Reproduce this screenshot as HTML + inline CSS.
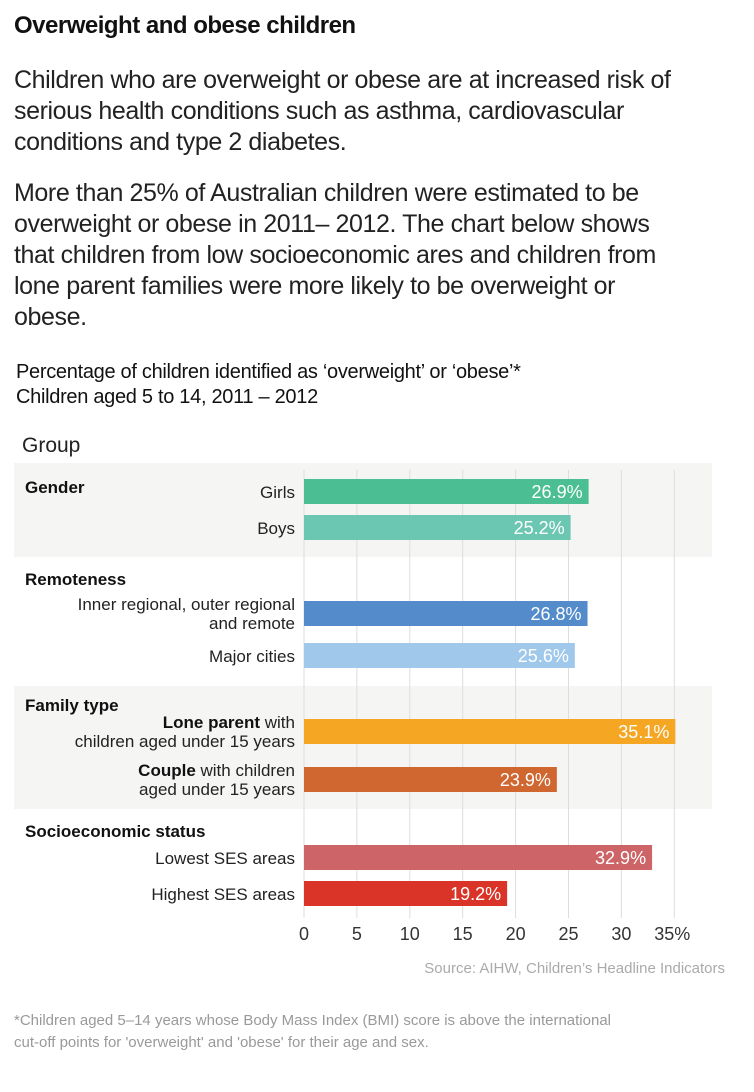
<!DOCTYPE html>
<html><head><meta charset="utf-8"><style>
body{margin:0;width:754px;height:1092px;background:#fff;font-family:"Liberation Sans",sans-serif;color:#111;position:relative;overflow:hidden}
.t{position:absolute;white-space:nowrap}
</style></head><body>
<div class="t" style="left:14px;top:12px;font-size:24px;font-weight:bold;letter-spacing:-0.5px">Overweight and obese children</div>
<div class="t" style="left:14px;top:65px;font-size:25px;line-height:31px;color:#222;letter-spacing:-0.4px">Children who are overweight or obese are at increased risk of<br>serious health conditions such as asthma, cardiovascular<br>conditions and type 2 diabetes.</div>
<div class="t" style="left:14px;top:178px;font-size:25px;line-height:31px;color:#222;letter-spacing:-0.4px">More than 25% of Australian children were estimated to be<br>overweight or obese in 2011– 2012. The chart below shows<br>that children from low socioeconomic ares and children from<br>lone parent families were more likely to be overweight or<br>obese.</div>
<div class="t" style="left:16px;top:360px;font-size:20px;line-height:25px;letter-spacing:-0.3px">Percentage of children identified as ‘overweight’ or ‘obese’*<br>Children aged 5 to 14, 2011 – 2012</div>
<svg id="c" width="754" height="1092" style="position:absolute;left:0;top:0"></svg>
<script>
const categories=["Girls","Boys","Inner regional, outer regional|and remote","Major cities","<b>Lone parent</b> with|children aged under 15 years","<b>Couple</b> with children|aged under 15 years","Lowest SES areas","Highest SES areas"];
const values=[26.9,25.2,26.8,25.6,35.1,23.9,32.9,19.2];
const colors=["#4bbf93","#6cc7b2","#548bca","#9fc8ea","#f5a623","#d06630","#cd6468","#da3428"];
const groups=["Gender","Remoteness","Family type","Socioeconomic status"];
const ticks=[0,5,10,15,20,25,30,35];
const svg=document.getElementById('c');const NS='http://www.w3.org/2000/svg';
function x(v){return 304+v*10.58;}
const barY=[479,515,601,643,719,767,845,881];
const bands=[[463,94,true],[557,129,false],[686,123,true],[809,120,false]];
const groupY=[493,585,711,837];
function mk(t,a,p){const e=document.createElementNS(NS,t);for(const k in a)e.setAttribute(k,a[k]);(p||svg).appendChild(e);return e;}
let e;
e=mk('text',{x:22,y:452,'font-size':21,fill:'#222'});e.textContent='Group';


bands.forEach((b,i)=>{if(b[2]){e=mk('rect',{x:14,y:b[0],width:698,height:b[1],fill:'#f5f5f4'});

}});
ticks.forEach(t=>{e=mk('line',{x1:x(t),x2:x(t),y1:470,y2:918,stroke:'#ddd','stroke-width':1});


e=mk('text',{x:x(t)+(t==35?-2:0),y:940,'font-size':18,fill:'#333','text-anchor':'middle'});e.textContent=t+(t==35?'%':'');

});
groups.forEach((g,i)=>{e=mk('text',{x:25,y:groupY[i],'font-size':17,'font-weight':'bold',fill:'#111'});e.textContent=g;

});
values.forEach((v,i)=>{const y=barY[i];
e=mk('rect',{x:304,y:y,width:x(v)-304,height:25,fill:colors[i]});


e=mk('text',{x:x(v)-6,y:y+19,'font-size':18,fill:'#fff','text-anchor':'end'});e.textContent=v.toFixed(1)+'%';


const lines=categories[i].split('|');
lines.forEach((l,j)=>{const ty=lines.length==1?y+19:y+9+(j*19);
e=mk('text',{x:295,y:ty,'font-size':17,fill:'#222','text-anchor':'end'});
e.innerHTML=l.replace('<b>','<tspan font-weight="bold" fill="#111">').replace('</b>','</tspan>');

});});
e=mk('text',{x:725,y:973,'font-size':15,fill:'#aaa','text-anchor':'end'});e.textContent='Source: AIHW, Children’s Headline Indicators';


</script>
<div class="t" style="left:14px;top:1010px;font-size:15px;line-height:22px;color:#999">*Children aged 5–14 years whose Body Mass Index (BMI) score is above the international<br>cut-off points for 'overweight' and 'obese' for their age and sex.</div>
</body></html>
